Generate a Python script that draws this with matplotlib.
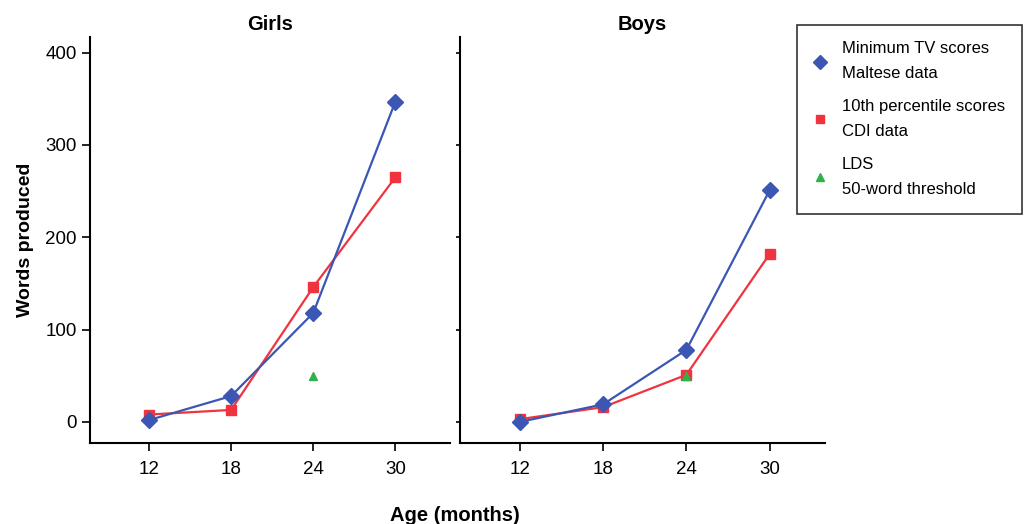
import matplotlib.pyplot as plt
from matplotlib.lines import Line2D

plt.rcParams['font.family'] = ['Liberation Sans', 'DejaVu Sans']

ages = [12, 18, 24, 30]

girls_tv = [2, 28, 118, 347]
girls_cdi = [8, 13, 146, 265]
boys_tv = [0, 19, 78, 251]
boys_cdi = [3, 16, 51, 182]
lds_age = [24]
lds_words = [50]

legend_labels = ['Minimum TV scores\nMaltese data',
                 '10th percentile scores\nCDI data',
                 'LDS\n50-word threshold']

blue = '#3b57b3'
red = '#f0343f'
green = '#2fb24a'

fig = plt.figure(figsize=(10.29, 5.24), dpi=100)
ax_g = fig.add_axes([0.0875, 0.1546, 0.350, 0.775])
ax_b = fig.add_axes([0.447, 0.1546, 0.355, 0.775])

panels = [(ax_g, 'Girls', girls_tv, girls_cdi),
          (ax_b, 'Boys', boys_tv, boys_cdi)]

for ax, title, tv, cdi in panels:
    ax.plot(ages, cdi, color=red, lw=1.6, marker='s', ms=7, zorder=2)
    ax.plot(ages, tv, color=blue, lw=1.6, marker='D', ms=8, zorder=3)
    ax.plot(lds_age, lds_words, ls='none', color=green, marker='^', ms=6, zorder=4)
    ax.set_xlim(7.7, 34.0)
    ax.set_ylim(-22.8, 417)
    ax.set_xticks(ages)
    ax.set_yticks([0, 100, 200, 300, 400])
    for s in ['top', 'right']:
        ax.spines[s].set_visible(False)
    for s in ['left', 'bottom']:
        ax.spines[s].set_linewidth(1.5)
    ax.set_title(title, fontsize=14.5, fontweight='bold', pad=5)
    ax.tick_params(axis='both', labelsize=13.5, width=1.2, length=6)
    ax.tick_params(axis='x', pad=7)

ax_b.tick_params(axis='y', labelleft=False, length=3)
ax_g.set_ylabel('Words produced', fontsize=14, fontweight='bold', labelpad=8)
fig.text(0.442, 0.005, 'Age (months)', fontsize=14.5, fontweight='bold', ha='center')

handles = [Line2D([], [], ls='none', marker='D', color=blue, ms=7),
           Line2D([], [], ls='none', marker='s', color=red, ms=6),
           Line2D([], [], ls='none', marker='^', color=green, ms=6)]
leg = fig.legend(handles, legend_labels, loc='upper left',
                 bbox_to_anchor=(0.7745, 0.953), frameon=True, fancybox=False,
                 edgecolor='black', fontsize=12, handlelength=0.8,
                 handletextpad=0.9, labelspacing=1.05, borderpad=1.0,
                 borderaxespad=0)
leg.get_frame().set_linewidth(1.2)
for t in leg.get_texts():
    t.set_linespacing(1.85)

fig.savefig('out.png', dpi=100)
